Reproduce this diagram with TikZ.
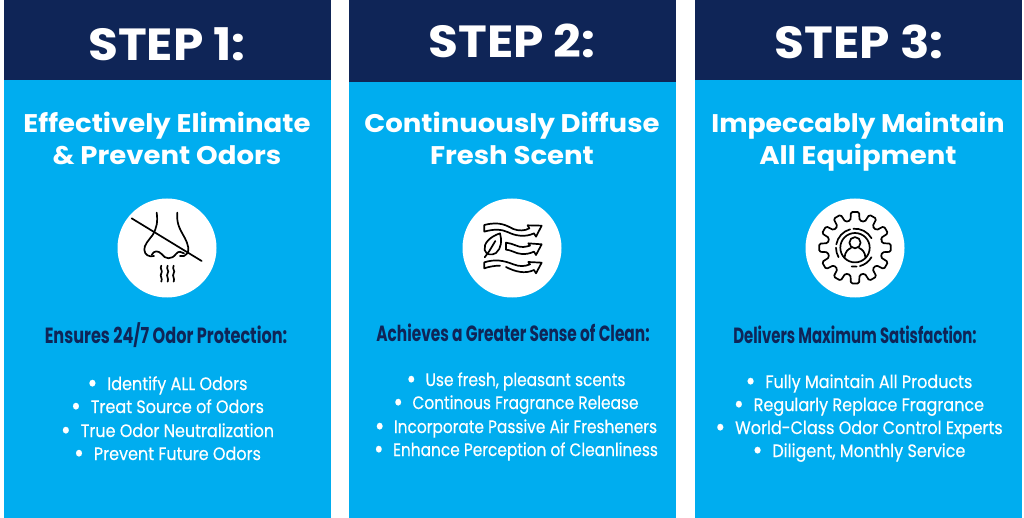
\documentclass[tikz,border=0pt]{standalone}
\usepackage{fontspec}
\setmainfont{Poppins}
\newfontfamily\titlef[FakeStretch=1.08]{Poppins}
\newfontfamily\headf[FakeStretch=1.08]{Poppins}
\newfontfamily\subf[FakeStretch=0.72]{Poppins}
\newfontfamily\bodyf[FakeStretch=0.89,FakeBold=0.4]{Poppins}
\definecolor{navy}{HTML}{0F2557}
\definecolor{sky}{HTML}{00ADEF}
\tikzset{
  x=1pt,y=-1pt,
  panelbox/.style={fill=sky,draw=none},
  headbox/.style={fill=navy,draw=none},
  titletxt/.style={anchor=base,text=white,inner sep=0pt,font=\titlef\bfseries\fontsize{45}{45}\selectfont},
  headtxt/.style={anchor=base,text=white,inner sep=0pt,font=\headf\bfseries\fontsize{25.5}{25.5}\selectfont},
  subtxt/.style={anchor=base,text=navy,inner sep=0pt,font=\subf\bfseries\fontsize{22}{22}\selectfont},
  bodytxt/.style={anchor=base,text=white,inner sep=0pt,font=\bodyf\fontsize{18}{18}\selectfont},
  disc/.style={fill=white,draw=none},
  ink/.style={draw=black,line width=1.7pt,line cap=round,line join=round,fill=none},
}
\newcommand{\bul}{\raisebox{-0.12em}{\scalebox{1.5}{•}}\hspace{0.55em}}
\newcommand{\midline}[1]{\scalebox{0.96}[1]{\bul #1}}
\begin{document}
\begin{tikzpicture}
\useasboundingbox (0,0) rectangle (1024,518);
% panels
\fill[panelbox] (4,80) rectangle (331,518);
\fill[headbox] (4,0) rectangle (331,80);
\fill[panelbox] (349,82) rectangle (676,518);
\fill[headbox] (349,0) rectangle (676,82);
\fill[panelbox] (695,80) rectangle (1022,518);
\fill[headbox] (695,0) rectangle (1022,80);
% titles
\node[titletxt] (t1) at (167,60.5) {STEP 1:};
\node[titletxt] (t2) at (512,57.5) {STEP 2:};
\node[titletxt] (t3) at (859,58.5) {STEP 3:};
% headings
\node[headtxt] (h1a) at (167,132.5) {Effectively Eliminate};
\node[headtxt] (h1b) at (167,164.5) {\& Prevent Odors};
\node[headtxt] (h2a) at (512,132.5) {Continuously Diffuse};
\node[headtxt] (h2b) at (512,164.5) {Fresh Scent};
\node[headtxt] (h3a) at (858,132.5) {\scalebox{0.97}[1]{Impeccably Maintain}};
\node[headtxt] (h3b) at (858,164.5) {All Equipment};
% subheads
\node[subtxt] (s1) at (166,343.5) {\scalebox{1.016}[1]{Ensures 24/7 Odor Protection:}};
\node[subtxt] (s2) at (513,341.5) {\scalebox{0.97}[1]{Achieves a Greater Sense of Clean:}};
\node[subtxt] (s3) at (855,343.5) {\scalebox{0.94}[1]{Delivers Maximum Satisfaction:}};
% lists
\node[bodytxt] (a1) at (167.5,390) {\bul Identify ALL Odors};
\node[bodytxt] (a2) at (167.5,413) {\bul Treat Source of Odors};
\node[bodytxt] (a3) at (167.5,437) {\bul True Odor Neutralization};
\node[bodytxt] (a4) at (167.5,460) {\bul Prevent Future Odors};
\node[bodytxt] (b1) at (516,386) {\midline{Use fresh, pleasant scents}};
\node[bodytxt] (b2) at (516,409) {\midline{Continous Fragrance Release}};
\node[bodytxt] (b3) at (516,433) {\midline{Incorporate Passive Air Fresheners}};
\node[bodytxt] (b4) at (516,456) {\midline{Enhance Perception of Cleanliness}};
\node[bodytxt] (c1) at (859,388) {\bul Fully Maintain All Products};
\node[bodytxt] (c2) at (859,411) {\bul Regularly Replace Fragrance};
\node[bodytxt] (c3) at (859,434) {\bul World-Class Odor Control Experts};
\node[bodytxt] (c4) at (859,457) {\bul Diligent, Monthly Service};
% discs
\fill[disc] (167,248) circle (49.5);
\fill[disc] (512,248) circle (49.5);
\fill[disc] (855,248) circle (49.5);
% nose icon
\begin{scope}[shift={(100,200)},x=0.3333pt,y=-0.3333pt]
  \draw[ink] (95,55) -- (305,183);
  \draw[ink] (170,38) .. controls (174,65) and (170,85) .. (158,105)
     .. controls (145,122) and (132,135) .. (133,150)
     .. controls (134,165) and (148,172) .. (162,168);
  \draw[ink] (232,38) .. controls (228,75) and (245,95) .. (255,115)
     .. controls (265,135) and (268,150) .. (262,160)
     .. controls (258,168) and (248,170) .. (240,168);
  \draw[ink] (155,165) .. controls (162,150) and (175,152) .. (185,162)
     .. controls (195,178) and (215,180) .. (228,162)
     .. controls (235,152) and (245,155) .. (252,160);
  \foreach \xx in {184,203,221}{
    \draw[ink] (\xx,197) .. controls (\xx-6,207) and (\xx+6,212) .. (\xx,220)
       .. controls (\xx-6,228) and (\xx+5,235) .. (\xx,245);
  }
\end{scope}
% air icon
\begin{scope}[shift={(450,205)},x=0.3333pt,y=-0.3333pt]
  \draw[ink] (103,60) .. controls (150,48) and (170,62) .. (190,72)
     .. controls (205,78) and (225,78) .. (238,70) -- (233,61) -- (275,62)
     -- (258,95) -- (252,85) .. controls (225,98) and (195,92) .. (175,82)
     .. controls (155,72) and (130,72) .. (103,80) -- cycle;
  \draw[ink] (168,113) .. controls (190,115) and (205,128) .. (220,126)
     .. controls (228,125) and (234,124) .. (240,122) -- (235,115) -- (275,118)
     -- (258,150) -- (252,140) .. controls (225,152) and (205,147) .. (190,140)
     .. controls (180,136) and (172,134) .. (168,134) -- cycle;
  \draw[ink] (150,182) .. controls (130,182) and (115,186) .. (103,190) -- (103,172)
     .. controls (135,162) and (160,166) .. (190,178)
     .. controls (210,186) and (225,184) .. (240,178) -- (235,171) -- (275,173)
     -- (258,205) -- (252,195) .. controls (225,208) and (195,200) .. (168,186);
  \draw[ink] (150,85) .. controls (120,95) and (100,115) .. (104,135)
     .. controls (108,150) and (125,152) .. (138,144)
     .. controls (155,130) and (156,105) .. (150,85) -- cycle;
  \draw[ink] (104,157) -- (118,138) -- (136,108);
\end{scope}
% gear icon
\begin{scope}[shift={(855,247.7)}]
  \draw[ink,rounded corners=1.5pt] (-15:27.5)
    \foreach \k in {0,...,11}{
      -- ({\k*30-9.5}:27.5) -- ({\k*30-6.5}:36) -- ({\k*30+6.5}:36) -- ({\k*30+9.5}:27.5) -- ({\k*30+15}:27.5)
    } -- cycle;
  \draw[ink] (190:19) arc[start angle=190,end angle=255,radius=19];
  \draw[ink] (265:19) arc[start angle=265,end angle=330,radius=19];
  \draw[ink] (30:19) arc[start angle=30,end angle=75,radius=19];
  \draw[ink] (85:19) arc[start angle=85,end angle=100,radius=19];
  \draw[ink] (150:19) arc[start angle=150,end angle=180,radius=19];
  \draw[ink] (0,0) circle (14.7);
  \draw[ink] (0,-5) circle (5.6);
  \draw[ink] (-10.5,10) .. controls (-10,4) and (-7,1.5) .. (-4,0.3);
  \draw[ink] (10.5,10) .. controls (10,4) and (7,1.5) .. (4,0.3);
\end{scope}
\end{tikzpicture}
\end{document}
